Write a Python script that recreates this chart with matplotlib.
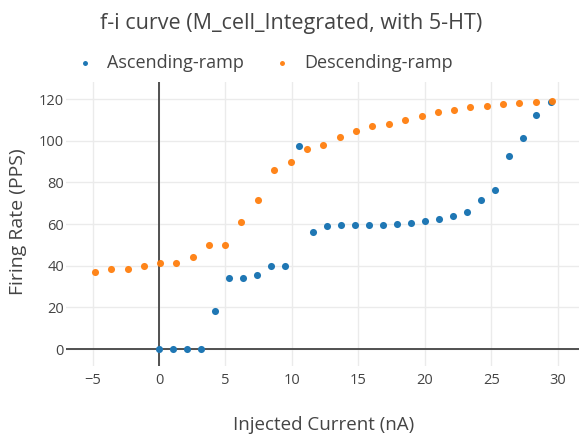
import matplotlib
matplotlib.use("Agg")
import matplotlib.pyplot as plt

asc_x = [0.0, 1.05, 2.1, 3.17, 4.2, 5.26, 6.3, 7.37, 8.43, 9.48, 10.5, 11.6, 12.64, 13.7,
         14.77, 15.8, 16.85, 17.9, 18.97, 20.0, 21.08, 22.1, 23.17, 24.2, 25.3, 26.3, 27.4, 28.4, 29.5]
asc_y = [0, 0, 0, 0, 18.1, 34.1, 34.1, 35.5, 39.7, 39.7, 97.3, 56.4, 59.2, 59.7,
         59.7, 59.7, 59.7, 60.2, 60.6, 61.3, 62.6, 63.9, 65.6, 71.4, 76.2, 92.5, 101.3, 112.3, 118.6]

desc_x = [-4.83, -3.6, -2.36, -1.13, 0.1, 1.3, 2.54, 3.77, 4.98, 6.2, 7.45, 8.68, 9.92, 11.14,
          12.35, 13.58, 14.8, 16.05, 17.28, 18.5, 19.75, 20.98, 22.19, 23.4, 24.66, 25.9, 27.1, 28.35, 29.6]
desc_y = [37.0, 38.3, 38.3, 39.7, 41.3, 41.3, 44.2, 50.2, 50.2, 61.0, 71.8, 85.9, 89.9, 96.0,
          98.2, 101.8, 104.8, 107.2, 108.2, 110.1, 111.7, 113.6, 114.9, 116.2, 116.8, 117.8, 118.2, 118.6, 118.9]

x_ticks = [-5, 0, 5, 10, 15, 20, 25, 30]
y_ticks = [0, 20, 40, 60, 80, 100, 120]

title = "f-i curve (M_cell_Integrated, with 5-HT)"
txt = "#444444"
plt.rcParams['font.family'] = ['Open Sans', 'DejaVu Sans']

fig = plt.figure(figsize=(5.79, 4.37), dpi=100)
top_px, bot_px, left_px = 82, 366, 66
ax = fig.add_axes([left_px/579, 1-bot_px/437, 1-left_px/579, (bot_px-top_px)/437])

ax.set_xlim(-7.0, 31.6)
ax.set_ylim(-8.1, 128.2)
ax.set_xticks(x_ticks)
ax.set_yticks(y_ticks)
ax.set_xticklabels([("\u2212%d" % -v) if v < 0 else str(v) for v in x_ticks])
ax.grid(True, color="#ebebeb", linewidth=1)
ax.set_axisbelow(True)
for s in ax.spines.values():
    s.set_visible(False)
ax.tick_params(length=0, labelsize=10.5, colors=txt)
ax.tick_params(axis='x', pad=5)
ax.tick_params(axis='y', pad=1.5)
ax.axvline(0, color="#444444", linewidth=1.3, zorder=1)
ax.axhline(0, color="#444444", linewidth=1.3, zorder=1)

ax.scatter(asc_x, asc_y, s=26, color="#1f77b4", label="Ascending-ramp", zorder=3, linewidths=0)
ax.scatter(desc_x, desc_y, s=26, color="#ff7f0e", label="Descending-ramp", zorder=3, linewidths=0, alpha=0.95)

fig.text(324/579, 1-425/437, "Injected Current (nA)", ha="center", va="center", fontsize=13.5, color=txt)
fig.text(18/579, 1-222/437, "Firing Rate (PPS)", ha="center", va="center", fontsize=14, color=txt,
         rotation=90)

fig.text(291/579, 1-23/437, title, ha="center", va="center", fontsize=15.5, color=txt)
leg = fig.legend(loc="center left", bbox_to_anchor=(76/579, 1-63/437), ncol=2, frameon=False,
                 fontsize=13, markerscale=0.7, handlelength=1.0, handletextpad=0.72,
                 columnspacing=1.6, borderpad=0, borderaxespad=0)
for t in leg.get_texts():
    t.set_color(txt)

fig.savefig("out.png", dpi=100)
